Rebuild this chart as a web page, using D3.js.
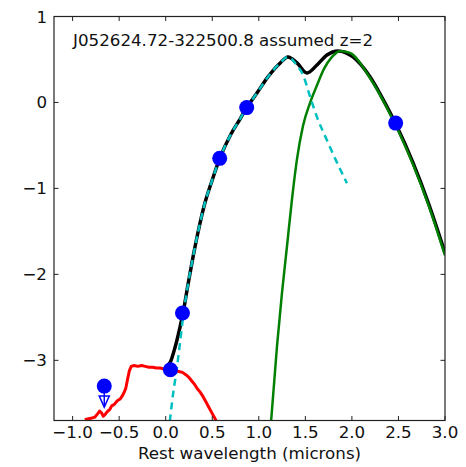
<!DOCTYPE html>
<html><head><meta charset="utf-8">
<script src="https://cdn.jsdelivr.net/npm/d3@7"></script>
<style>html,body{margin:0;padding:0;background:#fff}svg{display:block}text{font-family:"DejaVu Sans",sans-serif}</style>
</head><body>
<svg id="c" width="466" height="467"></svg>
<script>
const titleText = "J052624.72-322500.8 assumed z=2";
const xLabel = "Rest wavelength (microns)";
const xTicks = [-1.0,-0.5,0.0,0.5,1.0,1.5,2.0,2.5,3.0];
const yTicks = [1,0,-1,-2,-3];

// photometry points
const ptX = [-0.66, 0.05, 0.18, 0.58, 0.87, 2.47];
const ptY = [-3.30, -3.11, -2.45, -0.65, -0.06, -0.24];
const ptUpper = [true, false, false, false, false, false];

// red template (noisy)
const redX = [-0.87,-0.83,-0.79,-0.76,-0.73,-0.71,-0.69,-0.67,-0.65,-0.63,-0.60,-0.58,-0.55,-0.52,-0.49,-0.47,-0.45,-0.43,-0.41,-0.39,-0.37,-0.34,-0.30,-0.26,-0.22,-0.18,-0.14,-0.10,-0.06,-0.02,0.02,0.06,0.10,0.14,0.18,0.22,0.25,0.28,0.31,0.34,0.37,0.40,0.43,0.46,0.49,0.52,0.55];
const redY = [-3.69,-3.68,-3.67,-3.66,-3.62,-3.59,-3.61,-3.65,-3.63,-3.60,-3.57,-3.53,-3.51,-3.47,-3.45,-3.42,-3.38,-3.33,-3.22,-3.12,-3.07,-3.06,-3.07,-3.06,-3.07,-3.08,-3.08,-3.09,-3.09,-3.10,-3.10,-3.11,-3.12,-3.13,-3.14,-3.17,-3.20,-3.24,-3.28,-3.33,-3.37,-3.42,-3.48,-3.54,-3.60,-3.66,-3.72];

// cyan dashed (accretion disk template)
const cyanX = [0.03,0.078,0.121,0.153,0.186,0.239,0.293,0.347,0.411,0.497,0.583,0.70,0.80,0.87,0.98,1.10,1.23,1.313,1.41,1.475,1.55,1.625,1.732,1.84,1.947];
const cyanY = [-3.85,-3.40,-3.08,-2.80,-2.50,-2.12,-1.80,-1.51,-1.21,-0.91,-0.645,-0.37,-0.19,-0.06,0.11,0.30,0.46,0.53,0.43,0.32,0.07,-0.17,-0.44,-0.70,-0.94];

// green (hot dust blackbody)
const greenX = [1.12,1.131,1.195,1.249,1.303,1.356,1.41,1.475,1.55,1.625,1.70,1.786,1.872,1.979,2.194,2.377,2.656,2.828,3.0];
const greenY = [-3.85,-3.72,-2.84,-2.215,-1.67,-1.13,-0.66,-0.27,-0.006,0.20,0.39,0.53,0.60,0.576,0.285,-0.064,-0.72,-1.21,-1.78];

// black (total)
const blackX = [0.0,0.05,0.10,0.15,0.186,0.239,0.293,0.347,0.411,0.497,0.583,0.70,0.80,0.87,0.98,1.10,1.23,1.313,1.41,1.518,1.625,1.732,1.85,2.012,2.194,2.377,2.484,2.656,2.828,3.0];
const blackY = [-3.08,-3.02,-2.85,-2.63,-2.45,-2.12,-1.80,-1.51,-1.21,-0.91,-0.645,-0.37,-0.19,-0.06,0.11,0.30,0.46,0.53,0.46,0.343,0.436,0.552,0.60,0.53,0.30,-0.052,-0.28,-0.70,-1.19,-1.75];

const L = 54, R = 445, T = 16.5, B = 420.5;
const x = d3.scaleLinear().domain([-1.2, 3.0]).range([L, R]);
const y = d3.scaleLinear().domain([-3.7, 1]).range([B, T]);

const svg = d3.select("#c");
svg.append("defs").append("clipPath").attr("id","clip")
  .append("rect").attr("x",L).attr("y",T).attr("width",R-L).attr("height",B-T);

const g = svg.append("g").attr("clip-path","url(#clip)");
const zip = (a,b)=>a.map((v,i)=>[v,b[i]]);
const smooth = d3.line().x(d=>x(d[0])).y(d=>y(d[1])).curve(d3.curveMonotoneX);
const lin = d3.line().x(d=>x(d[0])).y(d=>y(d[1]));

g.append("path").attr("d", smooth(zip(blackX,blackY))).attr("fill","none").attr("stroke","#000").attr("stroke-width",3.5).attr("stroke-linejoin","round");
g.append("path").attr("d", smooth(zip(greenX,greenY))).attr("fill","none").attr("stroke","#008000").attr("stroke-width",2.5);
g.append("path").attr("d", smooth(zip(cyanX,cyanY))).attr("fill","none").attr("stroke","#00bfbf").attr("stroke-width",2.5).attr("stroke-dasharray","7,5");
g.append("path").attr("d", lin(zip(redX,redY))).attr("fill","none").attr("stroke","#ff0000").attr("stroke-width",3).attr("stroke-linejoin","round");

// points
ptX.forEach((px,i)=>{
  const cx = x(px), cy = y(ptY[i]);
  if (ptUpper[i]) {
    const tip = cy + 21;
    g.append("line").attr("x1",cx).attr("x2",cx).attr("y1",cy).attr("y2",tip).attr("stroke","#0000ff").attr("stroke-width",1.5);
    g.append("path").attr("d",`M${cx-5},${tip-11}L${cx},${tip}L${cx+5},${tip-11}Z`).attr("fill","none").attr("stroke","#0000ff").attr("stroke-width",1.5);
  }
  g.append("circle").attr("cx",cx).attr("cy",cy).attr("r",7.5).attr("fill","#0000ff");
});

// frame
svg.append("rect").attr("x",L).attr("y",T).attr("width",R-L).attr("height",B-T).attr("fill","none").attr("stroke","#222").attr("stroke-width",1.2);

const fmtX = v => (v<0?"\u2212":"") + Math.abs(v).toFixed(1);
const fmtY = v => (v<0?"\u2212":"") + Math.abs(v);
const tk = svg.append("g").attr("stroke","#222").attr("stroke-width",1);
xTicks.forEach(v=>{
  const px = x(v);
  tk.append("line").attr("x1",px).attr("x2",px).attr("y1",B).attr("y2",B-4.5);
  tk.append("line").attr("x1",px).attr("x2",px).attr("y1",T).attr("y2",T+4.5);
  svg.append("text").attr("x",px).attr("y",438).attr("text-anchor","middle").attr("font-size",16.7).attr("fill","#111").text(fmtX(v));
});
yTicks.forEach(v=>{
  const py = y(v);
  tk.append("line").attr("x1",L).attr("x2",L+4.5).attr("y1",py).attr("y2",py);
  tk.append("line").attr("x1",R).attr("x2",R-4.5).attr("y1",py).attr("y2",py);
  svg.append("text").attr("x",47).attr("y",py).attr("dy","0.36em").attr("text-anchor","end").attr("font-size",16.7).attr("fill","#111").text(fmtY(v));
});

svg.append("text").attr("x",73).attr("y",46).attr("font-size",16.7).attr("fill","#111").text(titleText);
svg.append("text").attr("x",(L+R)/2).attr("y",459).attr("text-anchor","middle").attr("font-size",16.7).attr("fill","#111").text(xLabel);
</script>
</body></html>
